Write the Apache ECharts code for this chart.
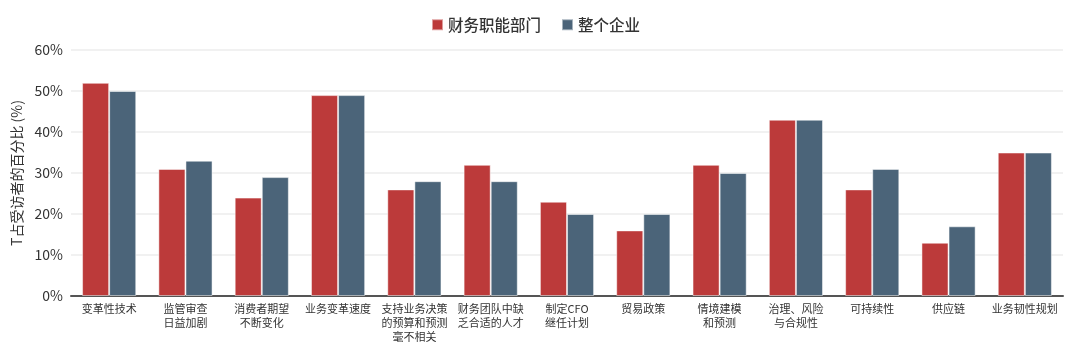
<!DOCTYPE html>
<html>
<head>
<meta charset="utf-8">
<script src="https://cdn.jsdelivr.net/npm/echarts@6/dist/echarts.min.js"></script>
<style>
  html, body { margin: 0; padding: 0; background: #fff; }
  #chart { width: 1071px; height: 344px; }
</style>
</head>
<body>
<div id="chart"></div>
<script>
// Challenges named by respondents, finance function vs. whole enterprise
const categories = [
  '变革性技术', '监管审查\n日益加剧', '消费者期望\n不断变化', '业务变革速度',
  '支持业务决策\n的预算和预测\n毫不相关', '财务团队中缺\n乏合适的人才', '制定CFO\n继任计划',
  '贸易政策', '情境建模\n和预测', '治理、风险\n与合规性', '可持续性', '供应链', '业务韧性规划'
];
const financeValues = [52, 31, 24, 49, 26, 32, 23, 16, 32, 43, 26, 13, 35];
const enterpriseValues = [50, 33, 29, 49, 28, 28, 20, 20, 30, 43, 31, 17, 35];
const seriesNames = ['财务职能部门', '整个企业'];
const yTicks = { min: 0, max: 60, interval: 10 };

const font = '"Noto Sans CJK SC", "Noto Sans", sans-serif';
const chart = echarts.init(document.getElementById('chart'));
chart.setOption({
  animation: false,
  textStyle: { fontFamily: font },
  legend: {
    top: 12,
    left: 'center',
    itemWidth: 11,
    itemHeight: 11,
    itemGap: 20,
    icon: 'rect',
    textStyle: { fontSize: 15.5, fontWeight: 500, color: '#333', fontFamily: font },
    data: seriesNames
  },
  grid: { left: 71, right: 8, top: 50, bottom: 45 },
  xAxis: {
    type: 'category',
    data: categories,
    axisLine: { lineStyle: { color: '#555', width: 2 } },
    axisTick: { show: false },
    axisLabel: {
      interval: 0, fontSize: 11, color: '#333', lineHeight: 14, margin: 6,
      fontFamily: font
    }
  },
  yAxis: {
    type: 'value',
    min: yTicks.min, max: yTicks.max, interval: yTicks.interval,
    name: 'T占受访者的百分比 (%)',
    nameLocation: 'middle',
    nameRotate: 90,
    nameGap: 44,
    nameTextStyle: { fontSize: 14, color: '#333', fontFamily: font },
    axisLabel: { formatter: '{value}%', fontSize: 14, color: '#333', margin: 8, fontFamily: font },
    axisLine: { show: false },
    axisTick: { show: false },
    splitLine: { lineStyle: { color: '#ececec', width: 1.5 } }
  },
  series: [
    {
      name: seriesNames[0], type: 'bar', data: financeValues,
      barGap: '0%', barCategoryGap: '29%',
      itemStyle: { color: '#bc3a3a', borderColor: 'rgba(255,255,255,0.5)', borderWidth: 1 }
    },
    {
      name: seriesNames[1], type: 'bar', data: enterpriseValues,
      barGap: '0%', barCategoryGap: '29%',
      itemStyle: { color: '#4b6479', borderColor: 'rgba(255,255,255,0.5)', borderWidth: 1 }
    }
  ]
});
</script>
</body>
</html>
